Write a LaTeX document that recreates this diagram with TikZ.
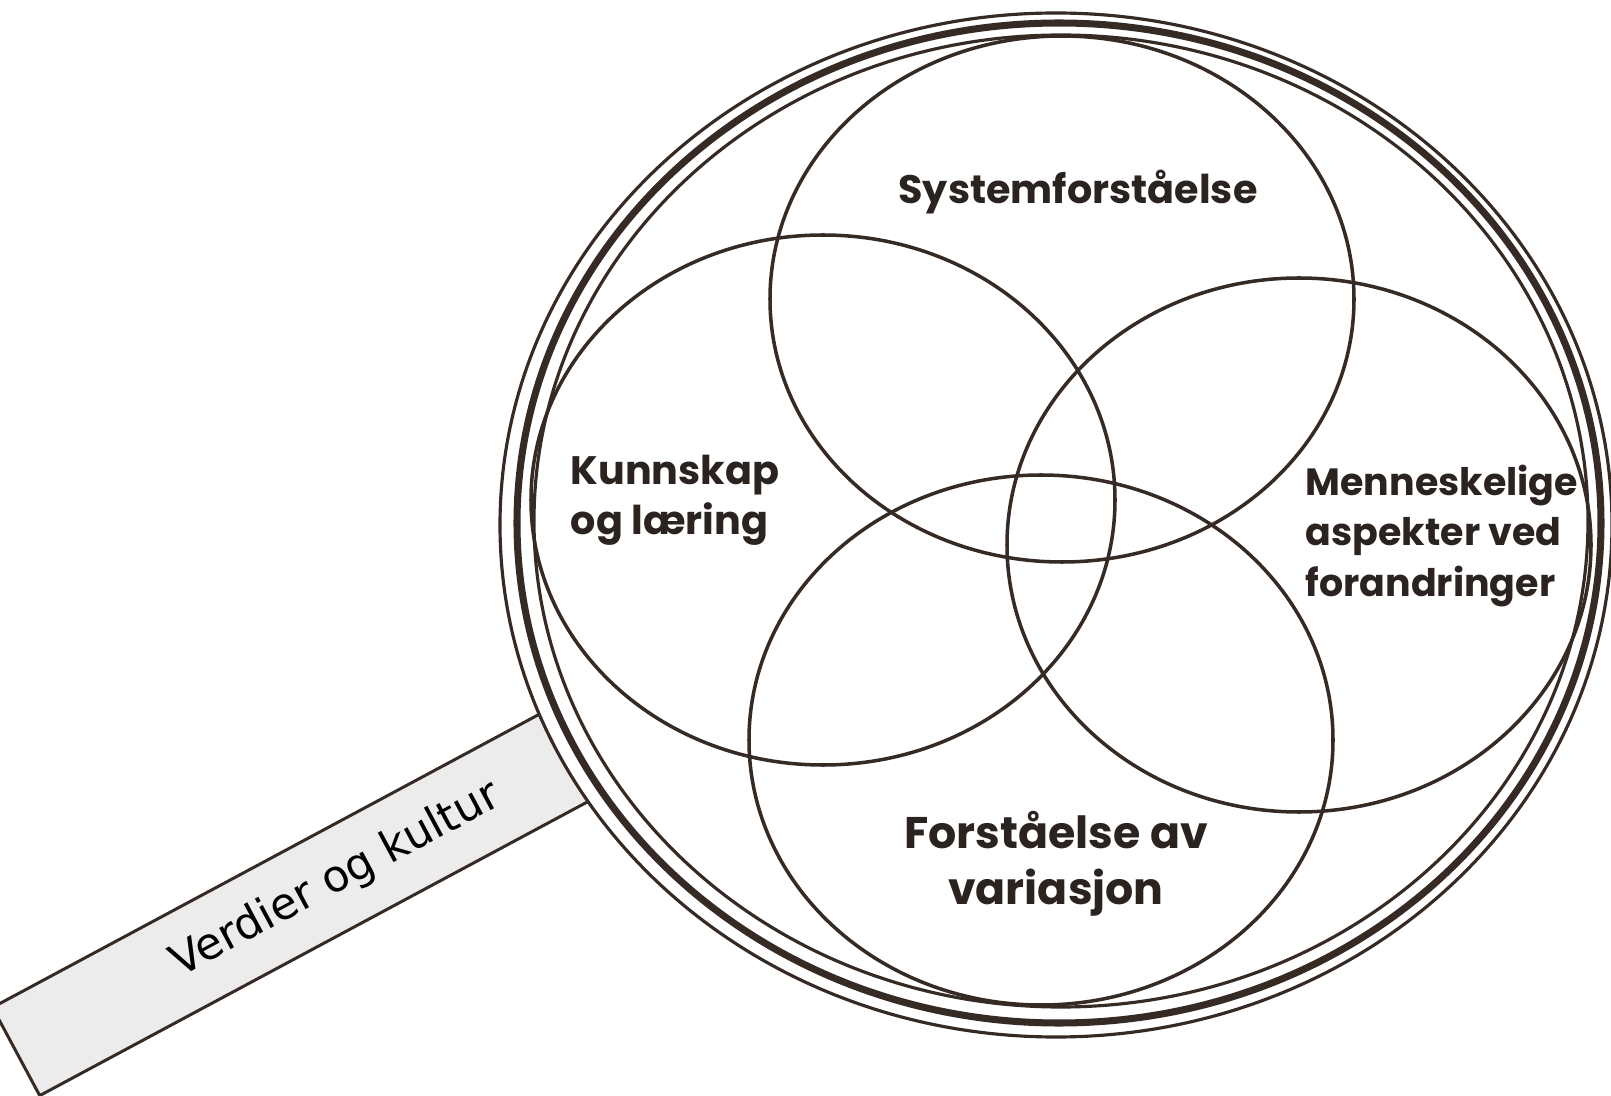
\documentclass[tikz,border=0pt]{standalone}
\usepackage{fontspec}
\newfontfamily\labelfont{Poppins}
\newfontfamily\gripfont{DejaVu Sans}
\usetikzlibrary{positioning}
\definecolor{ink}{HTML}{362A24}
\definecolor{labelink}{HTML}{2B2320}
\definecolor{gripgray}{HTML}{ECECEC}

\begin{document}
\begin{tikzpicture}[
        x=0.1mm, y=-0.1mm,
        ring/.style={draw=ink, line width=0.9pt},
        thickring/.style={draw=ink, line width=2pt},
        venn/.style={draw=ink, line width=1pt},
        lbl/.style={text=labelink, inner sep=0pt, font=\labelfont\bfseries\fontsize{11.3}{14.3}\selectfont},
        grip/.style={rectangle, draw=ink, line width=0.85pt, fill=gripgray, rotate=28.2, inner sep=0pt,
            minimum width=72.6mm, minimum height=10mm, font=\gripfont\fontsize{12.5}{15}\selectfont}
    ]

    \useasboundingbox (0,0) rectangle (1611,1096);

    % handle of the lens
    \node[grip] (handle) at (336,880) {Verdier og kultur};

    % lens rim
    \fill[white] (1056,525) ellipse [x radius=556, y radius=512];
    \draw[ring] (1056,525) ellipse [x radius=556, y radius=512];
    \draw[thickring] (1059,523) ellipse [x radius=542, y radius=500];
    \draw[ring] (1061,521) ellipse [x radius=527, y radius=486];

    % the four areas
    \draw[venn] (1062,299) ellipse [x radius=292, y radius=263];
    \draw[venn] (823,500) ellipse [x radius=292, y radius=265];
    \draw[venn] (1299,545) ellipse [x radius=292, y radius=267];
    \draw[venn] (1041,740) ellipse [x radius=292, y radius=265];

    \node[lbl] (sys) at (1078,192) {Systemforståelse};
    \node[lbl, align=left, anchor=west] (kunn) at (570,500) {Kunnskap\\og læring};
    \node[lbl, align=left, anchor=west, font=\labelfont\bfseries\fontsize{10.8}{14.5}\selectfont] (menn) at (1305,536) {Menneskelige\\aspekter ved\\forandringer};
    \node[lbl, align=center, font=\labelfont\bfseries\fontsize{12.6}{16}\selectfont] (vari) at (1056,864) {Forståelse av\\variasjon};

\end{tikzpicture}
\end{document}
